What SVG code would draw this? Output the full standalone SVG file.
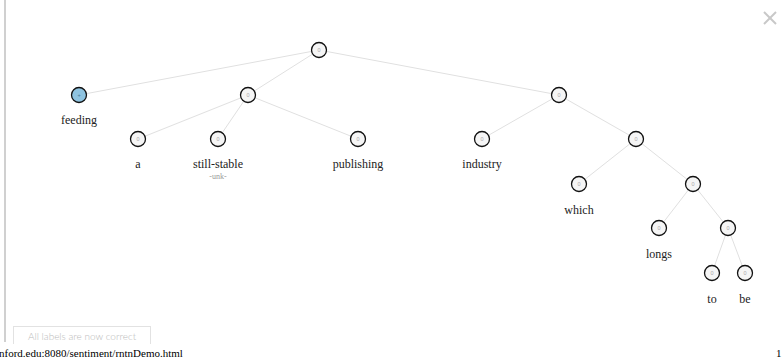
<svg xmlns="http://www.w3.org/2000/svg" width="782" height="362" viewBox="0 0 782 362">
<style>
.e{stroke:#e0e0e0;stroke-width:1;fill:none}
.n circle{fill:#f5f5f5;stroke:#111;stroke-width:1.3}
.v{font-size:5.5px;fill:#aaa;text-anchor:middle}
.w{font-size:12px;fill:#222;text-anchor:middle}
.u{font-size:8px;fill:#999;text-anchor:middle}
</style>
<rect width="782" height="362" fill="#fff"/>
<line x1="5" y1="0" x2="5" y2="342" stroke="#d0d0d0" stroke-width="2"/>
<g id="close" stroke="#c8c8c8" stroke-width="2"><line x1="764" y1="12" x2="776" y2="24"/><line x1="776" y1="12" x2="764" y2="24"/></g>
<g id="edges">
<line class="e" x1="319" y1="50" x2="79" y2="95"/>
<line class="e" x1="319" y1="50" x2="248" y2="95"/>
<line class="e" x1="319" y1="50" x2="559" y2="95"/>
<line class="e" x1="248" y1="95" x2="138" y2="139"/>
<line class="e" x1="248" y1="95" x2="218" y2="139"/>
<line class="e" x1="248" y1="95" x2="358" y2="139"/>
<line class="e" x1="559" y1="95" x2="482" y2="139"/>
<line class="e" x1="559" y1="95" x2="636" y2="139"/>
<line class="e" x1="636" y1="139" x2="579" y2="184"/>
<line class="e" x1="636" y1="139" x2="693" y2="184"/>
<line class="e" x1="693" y1="184" x2="659" y2="228"/>
<line class="e" x1="693" y1="184" x2="728" y2="228"/>
<line class="e" x1="728" y1="228" x2="712" y2="273"/>
<line class="e" x1="728" y1="228" x2="745" y2="273"/>
</g>
<g font-family="Liberation Serif, Times New Roman, serif">
<g id="root" class="n"><circle cx="319" cy="50" r="7.5"/><text class="v" x="319" y="52" font-family="Liberation Sans, sans-serif">0</text></g>
<g id="feeding" class="n"><circle cx="79" cy="95" r="7.5" style="fill:#8ec3e0"/><text class="v" x="79" y="97" style="fill:#4a7a99" font-family="Liberation Sans, sans-serif">+</text><text class="w" x="79" y="124">feeding</text></g>
<g id="np" class="n"><circle cx="248" cy="95" r="7.5"/><text class="v" x="248" y="97" font-family="Liberation Sans, sans-serif">0</text></g>
<g id="vp" class="n"><circle cx="559" cy="95" r="7.5"/><text class="v" x="559" y="97" font-family="Liberation Sans, sans-serif">0</text></g>
<g id="a" class="n"><circle cx="138" cy="139" r="7.5"/><text class="v" x="138" y="141" font-family="Liberation Sans, sans-serif">0</text><text class="w" x="138" y="168">a</text></g>
<g id="still-stable" class="n"><circle cx="218" cy="139" r="7.5"/><text class="v" x="218" y="141" font-family="Liberation Sans, sans-serif">0</text><text class="w" x="218" y="168">still-stable</text><text class="u" x="218" y="179">-unk-</text></g>
<g id="publishing" class="n"><circle cx="358" cy="139" r="7.5"/><text class="v" x="358" y="141" font-family="Liberation Sans, sans-serif">0</text><text class="w" x="358" y="168">publishing</text></g>
<g id="industry" class="n"><circle cx="482" cy="139" r="7.5"/><text class="v" x="482" y="141" font-family="Liberation Sans, sans-serif">0</text><text class="w" x="482" y="168">industry</text></g>
<g id="sbar" class="n"><circle cx="636" cy="139" r="7.5"/><text class="v" x="636" y="141" font-family="Liberation Sans, sans-serif">0</text></g>
<g id="which" class="n"><circle cx="579" cy="184" r="7.5"/><text class="v" x="579" y="186" font-family="Liberation Sans, sans-serif">0</text><text class="w" x="579" y="214">which</text></g>
<g id="s" class="n"><circle cx="693" cy="184" r="7.5"/><text class="v" x="693" y="186" font-family="Liberation Sans, sans-serif">0</text></g>
<g id="longs" class="n"><circle cx="659" cy="228" r="7.5"/><text class="v" x="659" y="230" font-family="Liberation Sans, sans-serif">0</text><text class="w" x="659" y="258">longs</text></g>
<g id="vp2" class="n"><circle cx="728" cy="228" r="7.5"/><text class="v" x="728" y="230" font-family="Liberation Sans, sans-serif">0</text></g>
<g id="to" class="n"><circle cx="712" cy="273" r="7.5"/><text class="v" x="712" y="275" font-family="Liberation Sans, sans-serif">0</text><text class="w" x="712" y="303">to</text></g>
<g id="be" class="n"><circle cx="745" cy="273" r="7.5"/><text class="v" x="745" y="275" font-family="Liberation Sans, sans-serif">0</text><text class="w" x="745" y="303">be</text></g>
</g>
<g id="button"><rect x="13.5" y="326.5" width="137" height="20" fill="#fff" stroke="#e2e2e2"/><text x="82" y="340" font-family="Lato, Liberation Sans, sans-serif" font-size="10" font-weight="300" fill="#bbb" text-anchor="middle">All labels are now correct</text></g>
<rect x="0" y="344" width="782" height="18" fill="#fff"/>
<text x="-1" y="357" font-family="Liberation Serif, Times New Roman, serif" font-size="11" fill="#000">nford.edu:8080/sentiment/rntnDemo.html</text>
<text x="776" y="357" font-family="Liberation Serif, Times New Roman, serif" font-size="11" fill="#000">1</text>
</svg>
